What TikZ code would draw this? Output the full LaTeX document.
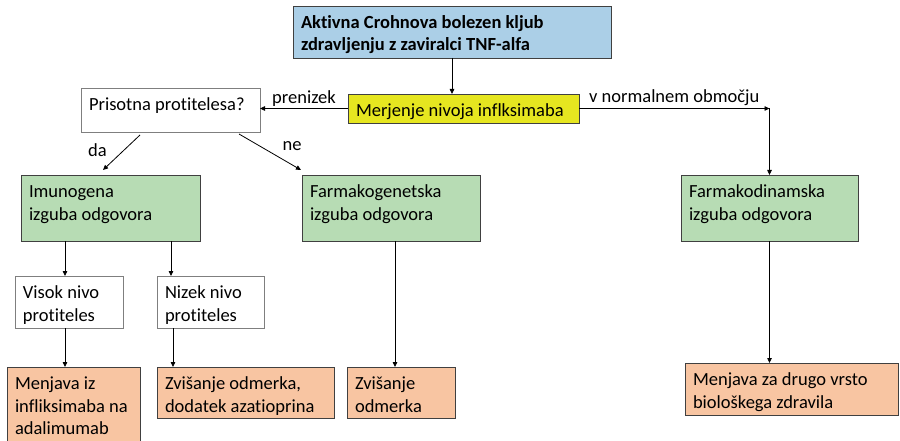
\documentclass[tikz,border=0pt]{standalone}
\usepackage{fontspec}
\setmainfont{Carlito}[Ligatures=NoCommon]
\usetikzlibrary{arrows.meta}

\definecolor{topblue}{HTML}{ABCFE7}
\definecolor{measyellow}{HTML}{E6E620}
\definecolor{lossgreen}{HTML}{B7DCB4}
\definecolor{actorange}{HTML}{F8C5A2}
\definecolor{edgegray}{HTML}{404040}
\definecolor{lightedge}{HTML}{7F7F7F}

\newcommand{\chartfont}{\fontsize{18.5pt}{22.5pt}\selectfont}
\newcommand{\boxtext}[3]{\parbox[t][#2][t]{\dimexpr#1-16pt\relax}{\raggedright\rule{0pt}{22.5pt}#3}}

\begin{document}
\begin{tikzpicture}[x=1pt,y=-1pt]
	\tikzset{box/.style={draw=edgegray, line width=0.8pt, anchor=north west, inner xsep=8pt, inner ysep=0pt, outer sep=0pt, font=\chartfont},
		whitebox/.style={box, draw=lightedge, fill=white},
		greenbox/.style={box, fill=lossgreen},
		orangebox/.style={box, fill=actorange},
		arr/.style={-{Triangle[length=5pt,width=4.5pt]}, line width=0.8pt},
		lbl/.style={font=\chartfont, inner sep=2pt}}
	\useasboundingbox (0,0) rectangle (900,441);
	
	\node[box, fill=topblue] (start) at (293,6) {\boxtext{318pt}{52pt}{\textbf{Aktivna Crohnova bolezen kljub\\zdravljenju z zaviralci TNF-alfa}}};
	\node[box, fill=measyellow] (measure) at (348,94) {\boxtext{231pt}{29pt}{Merjenje nivoja inflksimaba}};
	\node[whitebox] (query) at (81,88) {\boxtext{179pt}{44pt}{Prisotna protitelesa?}};
	
	\node[greenbox] (immuno) at (21,175) {\boxtext{179pt}{66pt}{Imunogena\\izguba odgovora}};
	\node[greenbox] (pkin) at (302,175) {\boxtext{178pt}{66pt}{Farmakogenetska\\izguba odgovora}};
	\node[greenbox] (pdyn) at (681,175) {\boxtext{177pt}{66pt}{Farmakodinamska\\izguba odgovora}};
	
	\node[whitebox] (highab) at (15,276) {\boxtext{108pt}{52pt}{Visok nivo\\protiteles}};
	\node[whitebox] (lowab) at (157,276) {\boxtext{107pt}{52pt}{Nizek nivo\\protiteles}};
	
	\node[orangebox] (switch) at (7,367) {\boxtext{133pt}{78pt}{Menjava iz\\infliksimaba~na\\adalimumab}};
	\node[orangebox] (dose1) at (157,367) {\boxtext{177pt}{51pt}{Zvišanje odmerka,\\dodatek azatioprina}};
	\node[orangebox] (dose2) at (347,367) {\boxtext{108pt}{51pt}{Zvišanje\\odmerka}};
	\node[orangebox] (switch2) at (685,363) {\boxtext{213pt}{52pt}{Menjava za drugo vrsto\\biološkega zdravila}};
	
	\draw[arr] (start.south) -- (start.south |- measure.north);
	\draw[arr] (measure.west) -- (measure.west -| query.east) node[lbl, midway, above] (low) {prenizek};
	\coordinate (bend) at (pdyn.north |- measure.east);
	\draw[arr] (measure.east) -- (bend) node[lbl, midway, above] (normal) {v normalnem območju};
	\draw[arr] (bend) -- (pdyn.north);
	
	\draw[arr] ([xshift=59pt,yshift=-3pt]query.south west) -- ([xshift=82pt,yshift=5pt]immuno.north west) node[lbl, midway, xshift=-24pt, yshift=2pt] (yes) {da};
	\draw[arr] ([xshift=158pt,yshift=-2pt]query.south west) -- ([xshift=-1pt,yshift=5pt]pkin.north west) node[lbl, midway, xshift=22pt, yshift=6pt] (no) {ne};
	
	\draw[arr] ([xshift=44pt]immuno.south west) -- ([xshift=50pt]highab.north west);
	\draw[arr] ([xshift=150pt]immuno.south west) -- ([xshift=14pt]lowab.north west);
	\draw[arr] ([xshift=50pt]highab.south west) -- ([xshift=58pt]switch.north west);
	\draw[arr] ([xshift=16pt]lowab.south west) -- ([xshift=16pt]dose1.north west);
	\draw[arr] ([xshift=93pt]pkin.south west) -- ([xshift=48pt]dose2.north west);
	\draw[arr] (pdyn.south) -- (pdyn.south |- switch2.north);
				
\end{tikzpicture}
\end{document}
